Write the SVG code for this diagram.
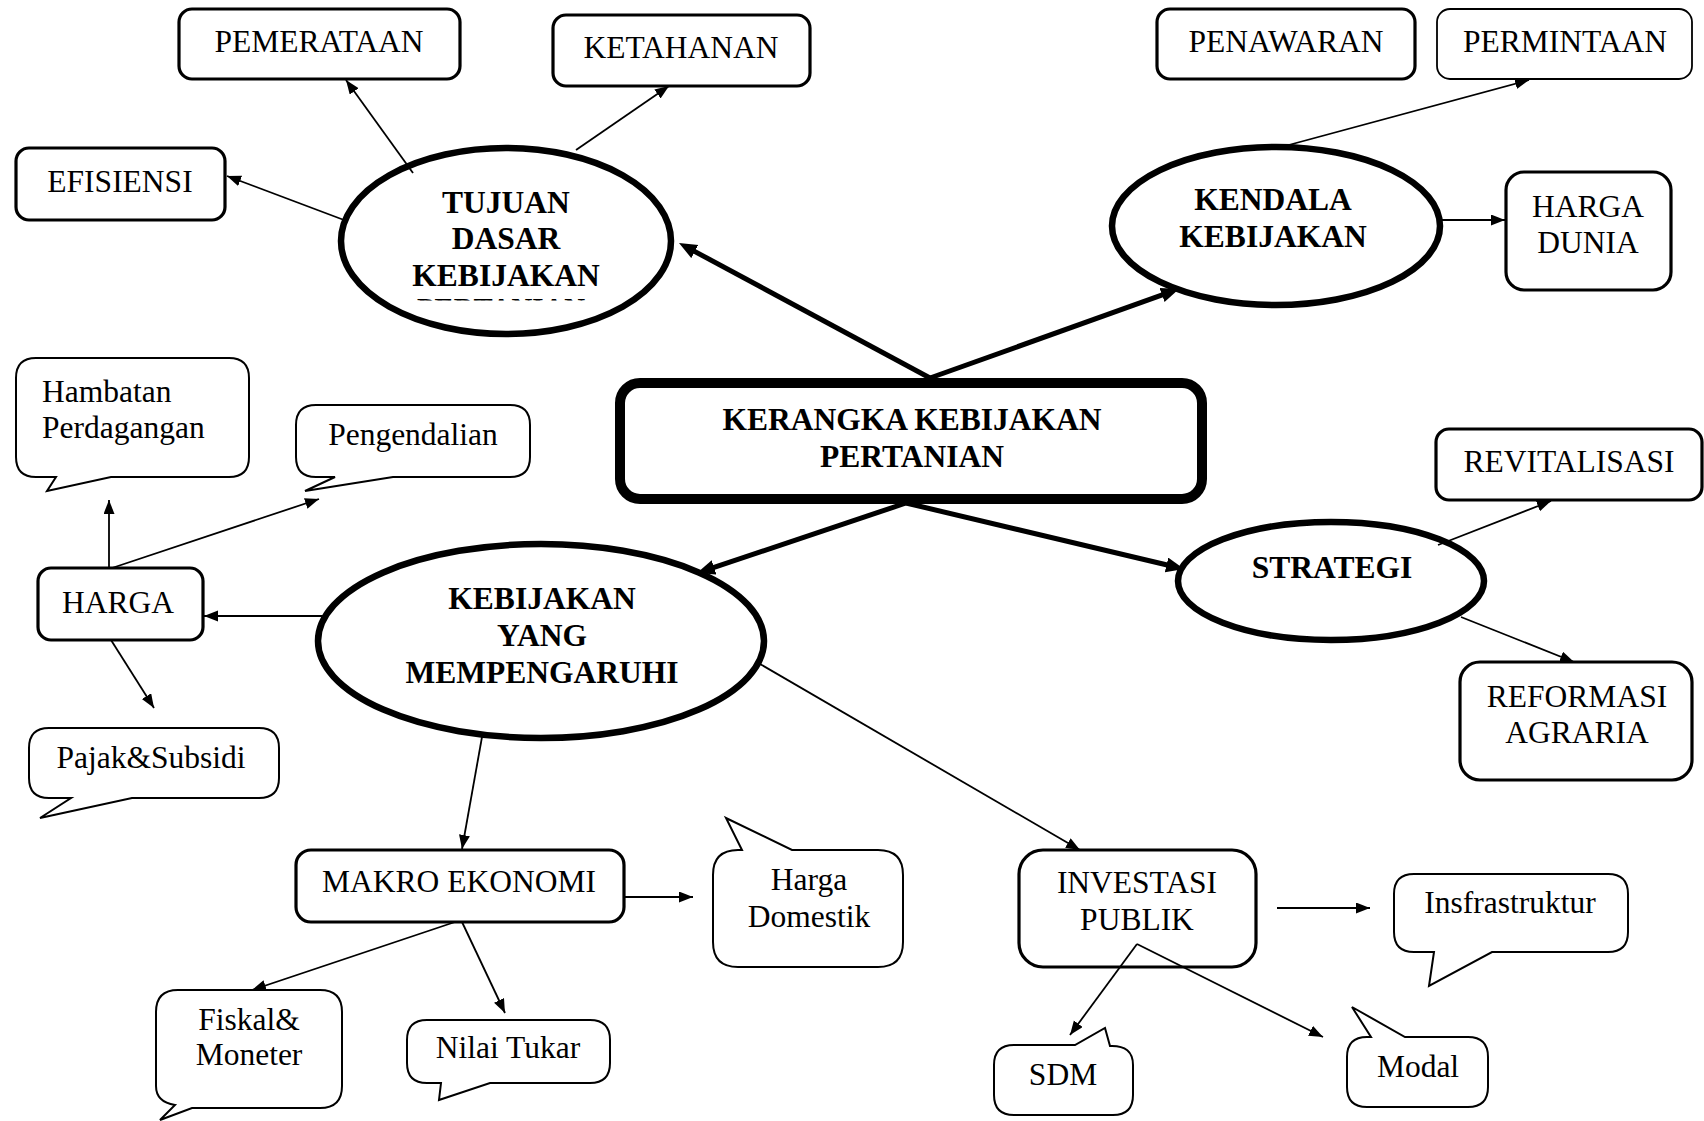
<svg xmlns="http://www.w3.org/2000/svg" width="1704" height="1121" viewBox="0 0 1704 1121">
<style>
text{font-family:"Liberation Serif","Times New Roman",serif;font-size:31.5px;fill:#000;text-anchor:middle}
.b{font-weight:bold}
.l{text-anchor:start}
.box{fill:#fff;stroke:#000;stroke-width:3.2}
.thin{fill:#fff;stroke:#000;stroke-width:1.8}
.call{fill:#fff;stroke:#000;stroke-width:2;stroke-linejoin:miter}
.ell{fill:#fff;stroke:#000;stroke-width:6.5}
.main{fill:#fff;stroke:#000;stroke-width:10}
.c{stroke:#000;stroke-width:1.8;fill:none;marker-end:url(#a)}
.k{stroke:#000;stroke-width:5;fill:none;marker-end:url(#A)}
</style>
<defs>
<marker id="a" markerUnits="userSpaceOnUse" markerWidth="15" markerHeight="12" refX="14" refY="5.5" orient="auto"><path d="M0,0 L14,5.5 L0,11 Z" fill="#000"/></marker>
<marker id="A" markerUnits="userSpaceOnUse" markerWidth="20" markerHeight="16" refX="4" refY="7.5" orient="auto"><path d="M0,0 L18,7.5 L0,15 Z" fill="#000"/></marker>
<clipPath id="cp"><rect x="380" y="298" width="260" height="2.5"/></clipPath>
</defs>
<rect width="1704" height="1121" fill="#fff"/>

<g id="pemerataan"><rect class="box" x="179" y="9" width="281" height="70" rx="13"/><text x="319" y="52">PEMERATAAN</text></g>
<g id="ketahanan"><rect class="box" x="553" y="15" width="257" height="71" rx="13"/><text x="681" y="58">KETAHANAN</text></g>
<g id="efisiensi"><rect class="box" x="16" y="148" width="209" height="72" rx="13"/><text x="120" y="192">EFISIENSI</text></g>
<g id="tujuan"><ellipse class="ell" cx="506" cy="241" rx="165" ry="93"/><text class="b" x="506" y="213">TUJUAN</text><text class="b" x="506" y="249">DASAR</text><text class="b" x="506" y="286">KEBIJAKAN</text><text class="b" x="501" y="320" textLength="168" lengthAdjust="spacingAndGlyphs" clip-path="url(#cp)">PERTANIAN</text></g>
<g id="penawaran"><rect class="box" x="1157" y="9" width="258" height="70" rx="13"/><text x="1286" y="52">PENAWARAN</text></g>
<g id="permintaan"><rect class="thin" x="1437" y="9" width="255" height="70" rx="13"/><text x="1565" y="52">PERMINTAAN</text></g>
<g id="kendala"><ellipse class="ell" cx="1276" cy="226" rx="164" ry="79"/><text class="b" x="1273" y="210">KENDALA</text><text class="b" x="1273" y="247">KEBIJAKAN</text></g>
<g id="harga-dunia"><rect class="box" x="1506" y="172" width="165" height="118" rx="18"/><text x="1588" y="217">HARGA</text><text x="1588" y="253">DUNIA</text></g>
<g id="kerangka"><rect class="main" x="620" y="383" width="582" height="116" rx="20"/><text class="b" x="912" y="430">KERANGKA KEBIJAKAN</text><text class="b" x="912" y="467">PERTANIAN</text></g>
<g id="hambatan"><path class="call" d="M36,358 H229 Q249,358 249,378 V457 Q249,477 229,477 H111 L47,491 L56,477 H36 Q16,477 16,457 V378 Q16,358 36,358 Z"/><text class="l" x="42" y="402">Hambatan</text><text class="l" x="42" y="438">Perdagangan</text></g>
<g id="pengendalian"><path class="call" d="M316,405 H510 Q530,405 530,425 V457 Q530,477 510,477 H393 L305,491 L335,477 H316 Q296,477 296,457 V425 Q296,405 316,405 Z"/><text x="413" y="445">Pengendalian</text></g>
<g id="harga"><rect class="box" x="38" y="568" width="165" height="72" rx="13"/><text x="118" y="613">HARGA</text></g>
<g id="kebijakan"><ellipse class="ell" cx="541" cy="641" rx="223" ry="97"/><text class="b" x="542" y="609">KEBIJAKAN</text><text class="b" x="542" y="646">YANG</text><text class="b" x="542" y="683">MEMPENGARUHI</text></g>
<g id="pajak"><path class="call" d="M49,728 H259 Q279,728 279,748 V778 Q279,798 259,798 H132 L40,818 L71,798 H49 Q29,798 29,778 V748 Q29,728 49,728 Z"/><text x="151" y="768">Pajak&amp;Subsidi</text></g>
<g id="strategi"><ellipse class="ell" cx="1331" cy="581" rx="153" ry="59"/><text class="b" x="1332" y="578">STRATEGI</text></g>
<g id="revitalisasi"><rect class="box" x="1436" y="429" width="266" height="71" rx="13"/><text x="1569" y="472">REVITALISASI</text></g>
<g id="reformasi"><rect class="box" x="1460" y="662" width="232" height="118" rx="20"/><text x="1577" y="707">REFORMASI</text><text x="1577" y="743">AGRARIA</text></g>
<g id="makro"><rect class="box" x="296" y="850" width="328" height="72" rx="15"/><text x="459" y="892">MAKRO EKONOMI</text></g>
<g id="harga-domestik"><path class="call" d="M738,850 H742 L726,818 L792,850 H878 Q903,850 903,875 V942 Q903,967 878,967 H738 Q713,967 713,942 V875 Q713,850 738,850 Z"/><text x="809" y="890">Harga</text><text x="809" y="927">Domestik</text></g>
<g id="fiskal"><path class="call" d="M178,990 H320 Q342,990 342,1012 V1086 Q342,1108 320,1108 H192 L160,1120 L175,1105 Q156,1102 156,1086 V1012 Q156,990 178,990 Z"/><text x="249" y="1030">Fiskal&amp;</text><text x="249" y="1065">Moneter</text></g>
<g id="nilai-tukar"><path class="call" d="M427,1020 H590 Q610,1020 610,1040 V1063 Q610,1083 590,1083 H490 L439,1100 L441,1083 H427 Q407,1083 407,1063 V1040 Q407,1020 427,1020 Z"/><text x="508" y="1058">Nilai Tukar</text></g>
<g id="investasi"><rect class="box" x="1019" y="850" width="237" height="117" rx="24"/><text x="1137" y="893">INVESTASI</text><text x="1137" y="930">PUBLIK</text></g>
<g id="infrastruktur"><path class="call" d="M1414,874 H1608 Q1628,874 1628,894 V932 Q1628,952 1608,952 H1492 L1429,986 L1434,952 H1414 Q1394,952 1394,932 V894 Q1394,874 1414,874 Z"/><text x="1510" y="913">Insfrastruktur</text></g>
<g id="sdm"><path class="call" d="M1014,1045 H1075 L1105,1028 L1110,1046 Q1133,1045 1133,1065 V1095 Q1133,1115 1113,1115 H1014 Q994,1115 994,1095 V1065 Q994,1045 1014,1045 Z"/><text x="1063" y="1085">SDM</text></g>
<g id="modal"><path class="call" d="M1367,1037 H1371 L1352,1007 L1405,1037 H1468 Q1488,1037 1488,1057 V1087 Q1488,1107 1468,1107 H1367 Q1347,1107 1347,1087 V1057 Q1347,1037 1367,1037 Z"/><text x="1418" y="1077">Modal</text></g>

<g id="connectors">
<path class="k" d="M930,378 L691.3,249.6"/>
<path class="k" d="M930,378 L1165.8,293.7"/>
<path class="k" d="M906,503 L710.3,568.6"/>
<path class="k" d="M906,503 L1170.4,565.8"/>
<path class="c" d="M413,173 L346,80"/>
<path class="c" d="M576,150 L669,86"/>
<path class="c" d="M344,220 L227,176"/>
<path class="c" d="M1285,146 L1529,80"/>
<path class="c" d="M1442,220 L1505,220"/>
<path class="c" d="M1438,545 L1551,501"/>
<path class="c" d="M1461,617 L1574,662"/>
<path class="c" d="M324,616 L204,616"/>
<path class="c" d="M109,568 L109,500"/>
<path class="c" d="M112,568 L319,499"/>
<path class="c" d="M111,640 L154,708"/>
<path class="c" d="M482,737 L462,849"/>
<path class="c" d="M760,664 L1080,850"/>
<path class="c" d="M624,897 L693,897"/>
<path class="c" d="M455,922 L252,990"/>
<path class="c" d="M462,922 L505,1013"/>
<path class="c" d="M1277,908 L1370,908"/>
<path class="c" d="M1137,944 L1070,1035"/>
<path class="c" d="M1137,944 L1323,1037"/>
</g>
</svg>
